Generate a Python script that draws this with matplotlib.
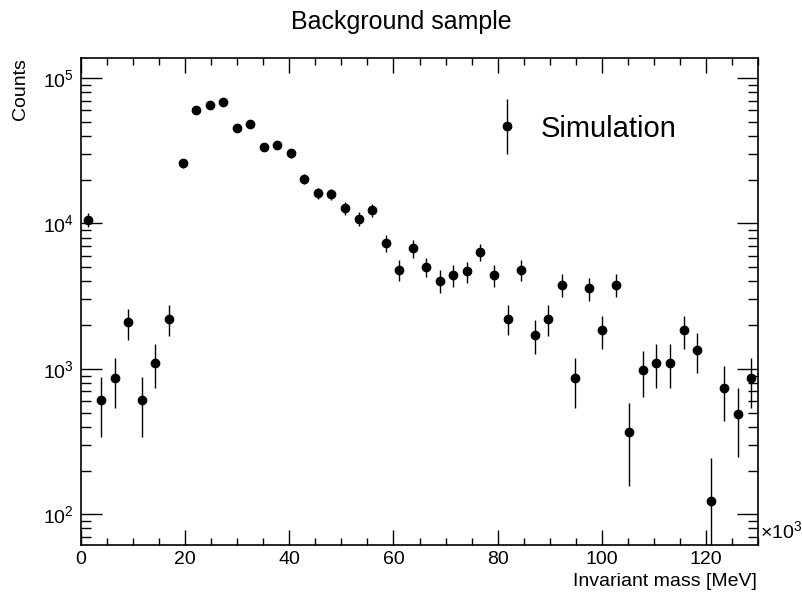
import numpy as np
import matplotlib
matplotlib.use("Agg")
import matplotlib.pyplot as plt
from matplotlib.ticker import LogLocator, MultipleLocator, NullFormatter
from matplotlib.legend_handler import HandlerErrorbar

plt.rcParams['font.family'] = ['Liberation Sans', 'DejaVu Sans']
plt.rcParams['mathtext.fontset'] = 'custom'
plt.rcParams['mathtext.rm'] = 'Liberation Sans'
plt.rcParams['mathtext.default'] = 'regular'

# histogram: 50 bins from 0 to 130 (x10^3 MeV)
n_bins = 50
x_lo, x_hi = 0.0, 130.0

counts = [10600, 612, 863, 2084, 612, 1104, 2208, 25880, 60000, 64900,
          68900, 45600, 48300, 33600, 34800, 30300, 20200, 16250, 15900, 12760,
          10770, 12360, 7360, 4800, 6730, 5040, 4050, 4420, 4680, 6380,
          4420, 2220, 4800, 1722, 2210, 3800, 863, 3573, 1845, 3800,
          370, 984, 1104, 1104, 1845, 1352, 123, 740, 492, 863]

errors = [1142, 274, 326, 506, 274, 368, 521, 1784, 2717, 2825,
          2911, 2368, 2437, 2033, 2069, 1931, 1576, 1414, 1398, 1253,
          1151, 1233, 951, 768, 910, 787, 706, 737, 759, 886,
          737, 523, 768, 460, 521, 684, 326, 663, 476, 684,
          213, 348, 368, 368, 476, 408, 121, 302, 246, 326]

edges = np.linspace(x_lo, x_hi, n_bins + 1)
centers = 0.5 * (edges[:-1] + edges[1:])

fig = plt.figure(figsize=(8.02, 5.93), dpi=100)
ax = fig.add_axes([81 / 802, 1 - 545 / 593, 677 / 802, 487 / 593])

eb = ax.errorbar(centers, counts, yerr=errors, fmt='o', color='black',
                 markersize=6, elinewidth=1.0, capsize=0, label='Simulation')

ax.set_yscale('log')
ax.set_xlim(x_lo, x_hi)
ax.set_ylim(61.5, 1.373e5)

ax.xaxis.set_major_locator(MultipleLocator(20))
ax.xaxis.set_minor_locator(MultipleLocator(5))
ax.yaxis.set_major_locator(LogLocator(base=10))
ax.yaxis.set_minor_locator(LogLocator(base=10, subs=np.arange(2, 10)))
ax.yaxis.set_minor_formatter(NullFormatter())

ax.tick_params(which='both', direction='in', top=True, right=True, labelsize=14)
ax.tick_params(axis='x', which='major', length=11, width=1.0, pad=4)
ax.tick_params(axis='x', which='minor', length=5, width=1.0)
ax.tick_params(axis='y', which='major', length=15, width=1.0, pad=5)
ax.tick_params(axis='y', which='minor', length=7.5, width=1.0)
for s in ax.spines.values():
    s.set_linewidth(1.2)

ax.legend(handles=[eb], labels=['Simulation'], frameon=False, fontsize=21,
          loc='center left', bbox_to_anchor=(0.565, 0.855), handlelength=1.2,
          handletextpad=0.55,
          handler_map={type(eb): HandlerErrorbar(xerr_size=0.93)})

ax.text(1.003, 0.028, '×10$^{3}$', transform=ax.transAxes, ha='left',
        va='center', fontsize=14)

fig.text(0.5, 1 - 22 / 593, 'Background sample', ha='center', va='center', fontsize=18)
fig.text(757 / 802, 1 - 581 / 593, 'Invariant mass [MeV]', ha='right', va='center', fontsize=14)
fig.text(20 / 802, 1 - 58 / 593, 'Counts', rotation=90, ha='center', va='top', fontsize=14)

fig.savefig('out.png', dpi=100)
